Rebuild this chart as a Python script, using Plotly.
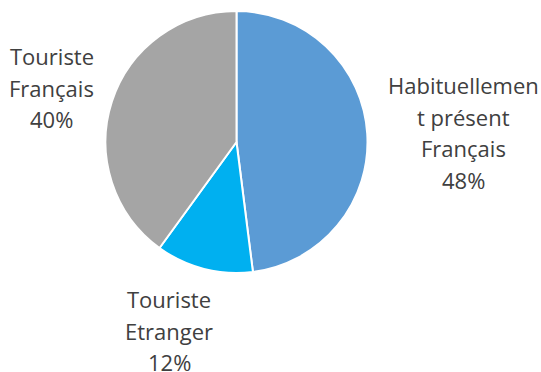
import plotly.graph_objects as go

# Share of each visitor group (percent)
categories = ["Habituellement présent Français", "Touriste Etranger", "Touriste Français"]
values = [48, 12, 40]
colors = ["#5B9BD5", "#00B0F0", "#A5A5A5"]

# Wrapped label lines as displayed next to each slice
label_lines = [
    ["Habituellemen", "t présent", "Français"],
    ["Touriste", "Etranger"],
    ["Touriste", "Français"],
]

W, H = 541, 372
cx, cy, r = 236.5, 142, 131

fig = go.Figure(
    go.Pie(
        labels=categories,
        values=values,
        sort=False,
        direction="clockwise",
        rotation=0,
        marker=dict(colors=colors, line=dict(color="white", width=2)),
        textinfo="none",
        hoverinfo="label+percent",
        showlegend=False,
        domain=dict(
            x=[(cx - r) / W, (cx + r) / W],
            y=[1 - (cy + r) / H, 1 - (cy - r) / H],
        ),
    )
)

# Label block placement: centre x and centre y of first line, in pixels
label_pos = [(463.5, 85), (169, 299), (51.5, 56)]
line_step = 31.5

annotations = []
for lines, v, (lx, ly) in zip(label_lines, values, label_pos):
    for i, txt in enumerate(lines + [f"{v}%"]):
        annotations.append(
            dict(
                x=lx / W,
                y=1 - (ly + i * line_step) / H,
                xref="paper",
                yref="paper",
                text=txt,
                showarrow=False,
                xanchor="center",
                yanchor="middle",
                font=dict(family="Open Sans", size=22, color="#404040"),
            )
        )

fig.update_layout(
    width=W,
    height=H,
    margin=dict(l=0, r=0, t=0, b=0),
    paper_bgcolor="white",
    plot_bgcolor="white",
    annotations=annotations,
)

fig.write_html("out.html")
